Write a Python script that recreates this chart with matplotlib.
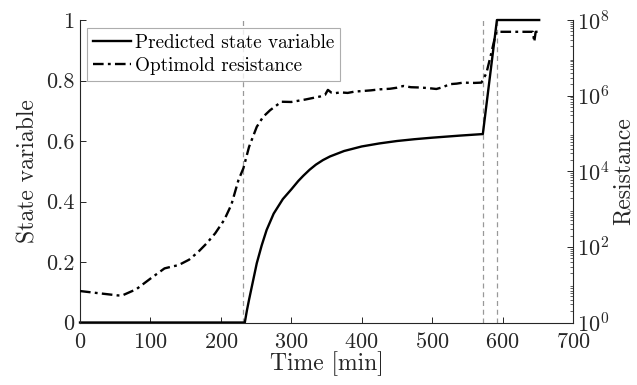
import numpy as np
import matplotlib
matplotlib.use("Agg")
import matplotlib.pyplot as plt
from matplotlib.ticker import LogLocator, NullFormatter, FixedLocator

plt.rcParams['font.family'] = 'serif'
plt.rcParams['font.serif'] = ['cmr10', 'DejaVu Serif']
plt.rcParams['mathtext.fontset'] = 'cm'
plt.rcParams['axes.formatter.use_mathtext'] = True

# Predicted state variable (left axis)
state_t = [0, 234, 237, 240, 245, 251, 258, 265, 275, 288, 300, 310, 317, 326, 335,
           345, 355, 375, 400, 425, 450, 475, 500, 540, 572, 592, 652]
state_v = [0, 0, 0.04, 0.075, 0.13, 0.196, 0.255, 0.306, 0.36, 0.408, 0.44, 0.468,
           0.485, 0.505, 0.522, 0.537, 0.549, 0.567, 0.582, 0.592, 0.600, 0.606,
           0.611, 0.618, 0.623, 1.0, 1.0]

# Optimold resistance (right axis, log)
res_t = [0, 25, 54, 60, 80, 100, 120, 130, 140, 155, 168, 180, 192, 205, 215, 225,
         232, 240, 251, 260, 270, 286, 300, 320, 341, 348, 352, 357, 362, 370, 380,
         390, 400, 413, 426, 440, 450, 459, 470, 483, 495, 506, 515, 525, 535, 544,
         560, 570, 577, 584, 591, 643, 645, 647, 652]
res_v = [6.8, 6.0, 5.2, 5.2, 7.6, 14.5, 27, 30, 33, 46, 74, 125, 229, 525, 1318, 5860,
         1.2e4, 4.4e4, 1.5e5, 2.75e5, 4.13e5, 6.9e5, 6.8e5, 7.9e5, 9.5e5, 1.05e6,
         1.42e6, 1.2e6, 1.16e6, 1.22e6, 1.18e6, 1.28e6, 1.32e6, 1.38e6, 1.47e6,
         1.52e6, 1.62e6, 1.80e6, 1.67e6, 1.64e6, 1.58e6, 1.50e6, 1.67e6, 2.01e6,
         2.08e6, 2.21e6, 2.17e6, 2.21e6, 3.9e6, 1.32e7, 4.88e7, 4.88e7, 2.65e7,
         4.88e7, 4.88e7]

# Event markers
event_t = [232, 572, 592]

x_ticks = [0, 100, 200, 300, 400, 500, 600, 700]
y_ticks = [0, 0.2, 0.4, 0.6, 0.8, 1.0]
y_tick_labels = ['0', '0.2', '0.4', '0.6', '0.8', '1']

txt = '#262626'
fig = plt.figure(figsize=(6.37, 3.85), dpi=100)
ax = fig.add_axes([0.1256, 0.1623, 0.7739, 0.7857])
ax2 = ax.twinx()

for t in event_t:
    ax.axvline(t, color='#999999', linestyle=(0, (4, 3)), linewidth=0.9, zorder=1)

l1, = ax.plot(state_t, state_v, color='black', linewidth=1.7, clip_on=False,
              label='Predicted state variable')
l2, = ax2.plot(res_t, res_v, color='black', linewidth=1.7, linestyle=(0, (4.5, 1.8, 1.2, 1.8)),
               label='Optimold resistance')

ax.set_xlim(0, 700)
ax.set_ylim(0, 1)
ax2.set_yscale('log')
ax2.set_ylim(1, 1e8)

ax.set_xticks(x_ticks)
ax.set_yticks(y_ticks)
ax.set_yticklabels(y_tick_labels)
ax2.yaxis.set_major_locator(FixedLocator([1, 1e2, 1e4, 1e6, 1e8]))
ax2.yaxis.set_minor_locator(LogLocator(base=10, subs=np.arange(2, 10), numticks=100))
ax2.yaxis.set_minor_formatter(NullFormatter())

for a in (ax, ax2):
    a.spines['top'].set_visible(False)
    for s in a.spines.values():
        s.set_color(txt)
        s.set_linewidth(0.8)
    a.tick_params(direction='in', colors=txt, labelsize=16, length=4, width=0.7)
    a.tick_params(which='minor', direction='in', length=2, width=0.5, colors=txt)
ax.tick_params(axis='x', pad=7)
ax.tick_params(axis='y', pad=4)
ax2.tick_params(axis='y', pad=3)
ax.spines['right'].set_visible(False)
ax2.spines['left'].set_visible(False)
ax2.spines['bottom'].set_visible(False)

ax.set_xlabel('Time [min]', fontsize=17, color=txt, labelpad=-1)
ax.set_ylabel('State variable', fontsize=17, color=txt, labelpad=5)
ax2.set_ylabel('Resistance', fontsize=17, color=txt, labelpad=2)

leg = ax.legend(handles=[l1, l2], loc='upper left', bbox_to_anchor=(0.006, 0.985),
                fontsize=13.8, frameon=True, fancybox=False, handlelength=2.0,
                handletextpad=0.2, borderpad=0.3, labelspacing=0.25, borderaxespad=0.2)
leg.get_frame().set_edgecolor('#999999')
leg.get_frame().set_linewidth(0.8)

fig.savefig('out.png', dpi=100)
